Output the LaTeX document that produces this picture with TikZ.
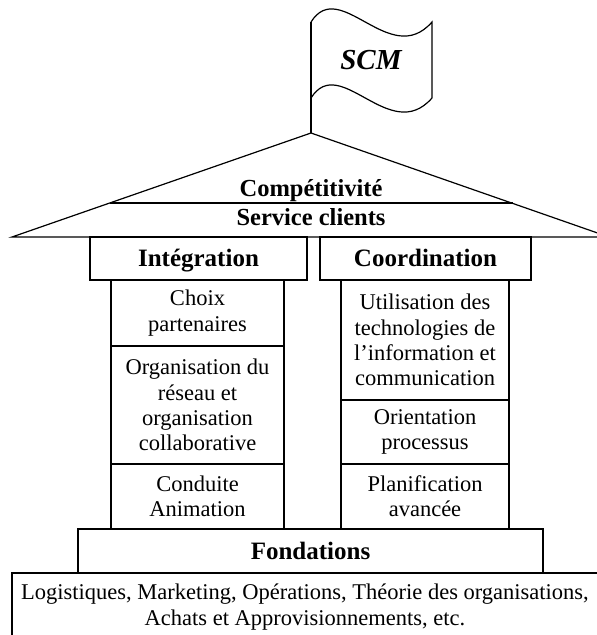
\documentclass[tikz,border=0pt]{standalone}
\usepackage{fontspec}
\setmainfont{Liberation Serif}
\begin{document}
\begin{tikzpicture}[x=1pt,y=-1pt,line join=miter]
\tikzset{
  boxline/.style={draw,line width=1.7pt},
  thinline/.style={draw,line width=1.2pt},
  head/.style={boxline,fill=white,inner sep=0pt,text height=18pt,text depth=2pt,font=\fontsize{25}{28}\selectfont\bfseries},
  cell/.style={boxline,fill=white,inner sep=0pt,align=center,font=\fontsize{22.5}{25.3}\selectfont},
  rooftext/.style={inner sep=0pt,text height=18pt,text depth=2pt,font=\fontsize{24.5}{28}\selectfont\bfseries},
  flagtext/.style={inner sep=0pt,font=\fontsize{29}{32}\selectfont\bfseries\itshape},
}
\useasboundingbox (0,0) rectangle (597,635);
% flag
\coordinate (apex) at (311,133);
\coordinate (ftl) at (311,22);
\coordinate (ftr) at (432,22);
\coordinate (fbl) at (311,98);
\coordinate (fbr) at (432,98);
\draw[thinline] (ftl) .. controls (340,-24) and (390,70) .. (ftr) -- (fbr);
\draw[thinline] (fbl) .. controls (340,52) and (390,146) .. (fbr);
\draw[thinline] (ftl) -- (apex);
\node[flagtext] (scm) at (371,60) {SCM};
% roof
\coordinate (rl) at (12,237);
\coordinate (rr) at (609,237);
\coordinate (ul) at (109.7,203);
\coordinate (ur) at (513,203);
\draw[thinline] (rl) -- (apex) -- (rr) -- cycle;
\draw[thinline] (ul) -- (ur);
\node[rooftext] (comp) at (311,188) {Compétitivité};
\node[rooftext] (serv) at (311,217) {Service clients};
% heads
\node[head,minimum width=217pt,minimum height=43pt] (integ) at (198.5,258.5) {Intégration};
\node[head,minimum width=211pt,minimum height=43pt] (coord) at (425.5,258.5) {Coordination};
% left pillar
\node[cell,minimum width=173pt,minimum height=66pt] (choix) at (197.5,313) {Choix\\partenaires};
\node[cell,minimum width=173pt,minimum height=118pt] (orga) at (197.5,405) {Organisation du\\réseau et\\organisation\\collaborative};
\node[cell,minimum width=173pt,minimum height=65pt] (cond) at (197.5,496.5) {Conduite\\Animation};
% right pillar
\node[cell,minimum width=168pt,minimum height=120pt] (util) at (425,340) {Utilisation des\\technologies de\\l’information et\\communication};
\node[cell,minimum width=168pt,minimum height=64pt] (orient) at (425,432) {Orientation\\processus};
\node[cell,minimum width=168pt,minimum height=65pt] (plan) at (425,496.5) {Planification\\avancée};
% foundations
\node[head,minimum width=465pt,minimum height=44pt] (fond) at (310.5,551) {Fondations};
\node[cell,minimum width=588pt,minimum height=66pt] (base) at (306,606) {};
\node[inner sep=0pt,align=center,font=\fontsize{22.5}{25.3}\selectfont] (basetext) at (305,607) {Logistiques, Marketing, Opérations, Théorie des organisations,\\Achats et Approvisionnements, etc.};
\end{tikzpicture}
\end{document}
